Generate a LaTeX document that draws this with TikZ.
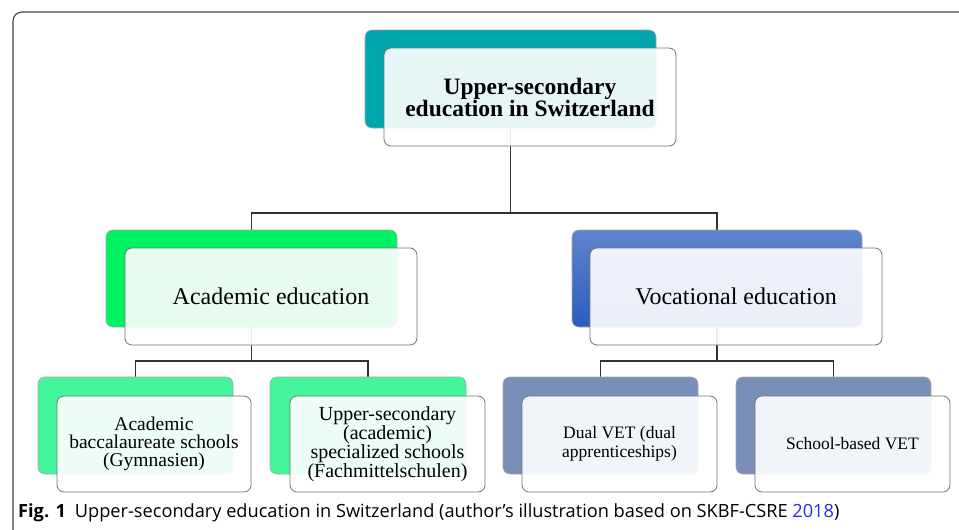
\documentclass[tikz,border=0pt]{standalone}
\usepackage{fontspec}
\setmainfont{Liberation Serif}
\newfontfamily\captionfont{Open Sans}
\usetikzlibrary{backgrounds}

\definecolor{topteal}{RGB}{0,166,174}
\definecolor{acadgreen}{RGB}{0,242,98}
\definecolor{vocTop}{RGB}{96,132,206}
\definecolor{vocBot}{RGB}{42,92,190}
\definecolor{schoolgreen}{RGB}{68,245,155}
\definecolor{schoolblue}{RGB}{120,144,184}
\definecolor{linkblue}{RGB}{40,40,255}

\begin{document}
\begin{tikzpicture}[x=1pt, y=-1pt,
    backbox/.style={draw=gray!70, line width=0.6pt, rounded corners=7pt, inner sep=0pt},
    frontbox/.style={draw=black!55, line width=0.8pt, rounded corners=7pt, fill=white,
        fill opacity=0.9, text opacity=1, align=center, inner sep=2pt},
    link/.style={draw=black!80, line width=1.2pt}]
	% Canvas
	\useasboundingbox (0,0) rectangle (959,530);
	\draw[black!75, line width=1.1pt, rounded corners=9pt] (959,12) -- (13,12) -- (13,530);
	
	% Top level
	\node[backbox, fill=topteal, minimum width=291pt, minimum height=98pt] (topback) at (510.5,79) {};
	\node[frontbox, minimum width=292pt, minimum height=98pt,
	      font=\fontsize{23.5}{22}\selectfont\bfseries] (top) at (530,97)
	      {Upper-secondary\\education in Switzerland};
	
	% Second level
	\node[backbox, fill=acadgreen, minimum width=291pt, minimum height=97pt] (acadback) at (251.5,278.5) {};
	\node[frontbox, minimum width=292pt, minimum height=97pt,
	      font=\fontsize{24}{28}\selectfont] (acad) at (271,296.5) {Academic education};
	
	\node[backbox, top color=vocTop, bottom color=vocBot, minimum width=290pt, minimum height=97pt] (vocback) at (717,278.5) {};
	\node[frontbox, minimum width=292pt, minimum height=97pt,
	      font=\fontsize{24}{28}\selectfont] (voc) at (736,296.5) {Vocational education};
	
	% Third level
	\node[backbox, fill=schoolgreen, minimum width=195pt, minimum height=97pt] (gymback) at (135.5,425.5) {};
	\node[frontbox, minimum width=194pt, minimum height=96pt,
	      font=\fontsize{19.5}{18}\selectfont] (gym) at (154,444)
	      {Academic\\baccalaureate schools\\(Gymnasien)};
	
	\node[backbox, fill=schoolgreen, minimum width=196pt, minimum height=97pt] (fmsback) at (368,425.5) {};
	\node[frontbox, minimum width=195pt, minimum height=96pt,
	      font=\fontsize{20}{19}\selectfont] (fms) at (387.5,444)
	      {Upper-secondary\\(academic)\\specialized schools\\(Fachmittelschulen)};
	
	\node[backbox, fill=schoolblue, minimum width=195pt, minimum height=97pt] (dualback) at (600.5,425.5) {};
	\node[frontbox, minimum width=195pt, minimum height=96pt,
	      font=\fontsize{17.5}{19}\selectfont] (dual) at (619.5,444)
	      {Dual VET (dual\\apprenticeships)};
	
	\node[backbox, fill=schoolblue, minimum width=195pt, minimum height=97pt] (schoolback) at (833.5,425.5) {};
	\node[frontbox, minimum width=195pt, minimum height=96pt,
	      font=\fontsize{17.5}{19}\selectfont] (school) at (852.5,444) {School-based VET};
	
	% Connectors (behind the boxes)
	\begin{pgfonlayer}{background}
		\coordinate (hubtop) at (510.5,213);
		\coordinate (hubacad) at (251.5,361);
		\coordinate (hubvoc) at (717,361);
		\draw[link] (topback.south) -- (hubtop);
		\draw[link] (hubtop) -| (acadback.north);
		\draw[link] (hubtop) -| (vocback.north);
		\draw[link] (acadback.south) -- (hubacad);
		\draw[link] (hubacad) -| (gymback.north);
		\draw[link] (hubacad) -| (fmsback.north);
		\draw[link] (vocback.south) -- (hubvoc);
		\draw[link] (hubvoc) -| (dualback.north);
		\draw[link] (hubvoc) -| (schoolback.north);
	\end{pgfonlayer}
	
	% Caption
	\node[anchor=base west, inner sep=0pt, font=\captionfont\fontsize{18.2}{21}\selectfont] (caption) at (18,517)
	     {\textbf{Fig. 1}\hspace{9pt}Upper-secondary education in Switzerland (author’s illustration based on SKBF-CSRE \textcolor{linkblue}{2018})};
\end{tikzpicture}
\end{document}
